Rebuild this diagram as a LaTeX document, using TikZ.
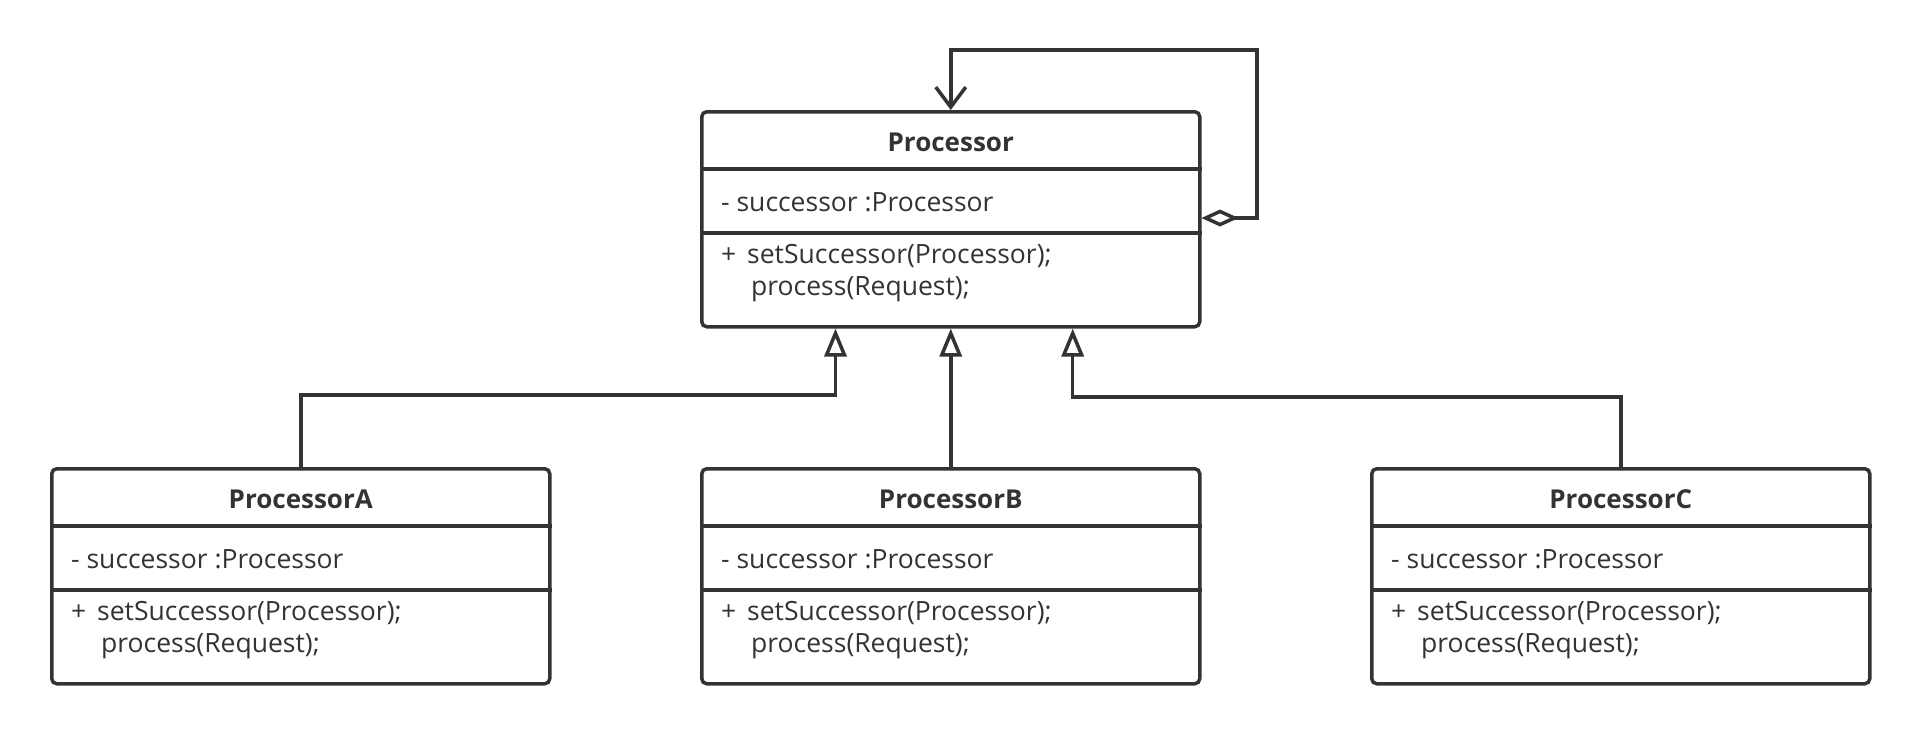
\documentclass[tikz,border=0pt]{standalone}
\usepackage{fontspec}
\setmainfont{Open Sans}
\usetikzlibrary{arrows.meta,calc}
\definecolor{ink}{HTML}{333333}
\tikzset{
  umlline/.style={draw=ink, line width=3.5pt},
  classbox/.style={umlline, rectangle, rounded corners=5pt, minimum width=498pt, minimum height=215pt, inner sep=0pt, anchor=north west, fill=white},
  titletext/.style={anchor=base, inner sep=0pt, text=ink, font=\fontsize{26}{32}\selectfont\bfseries},
  bodytext/.style={anchor=base west, inner sep=0pt, text=ink, font=\fontsize{26.5}{32}\selectfont},
  inherit/.style={umlline, -{Triangle[length=28pt,width=22pt,fill=white]}},
}
\newcommand{\umlclass}[4]{%
  \node[classbox] (#1) at (#2,#3) {};
  \draw[umlline] ([yshift=-59pt]#1.north west) -- ([yshift=-59pt]#1.north east);
  \draw[umlline] ([yshift=-123pt]#1.north west) -- ([yshift=-123pt]#1.north east);
  \node[titletext] (#1-t) at ([yshift=-41pt]#1.north) {#4};
  \node[bodytext] (#1-a) at ([xshift=21pt,yshift=-101pt]#1.north west) {- successor :Processor};
  \node[bodytext] (#1-m1) at ([xshift=21pt,yshift=-153pt]#1.north west) {+ \hspace{4pt}setSuccessor(Processor);};
  \node[bodytext] (#1-m2) at ([xshift=51pt,yshift=-185pt]#1.north west) {process(Request);};
}
\begin{document}
\begin{tikzpicture}[x=1pt,y=-1pt]
\useasboundingbox[fill=white] (0,0) rectangle (1918,734);
\umlclass{P}{700}{110}{Processor}
\umlclass{A}{50}{467}{ProcessorA}
\umlclass{B}{700}{467}{ProcessorB}
\umlclass{C}{1370}{467}{ProcessorC}
% self aggregation loop
\coordinate (loopR) at (1257,50);
\draw[umlline, {Diamond[length=37pt,width=17pt,fill=white]}-{Straight Barb[length=20pt,width=30pt]}]
  ([yshift=-108pt]P.north east) -| (loopR) -| (P.north);
% generalisations
\coordinate (ja) at (835.5,395);
\coordinate (jc) at (1072.7,397);
\draw[inherit] (A.north) |- (ja) -- (ja |- P.south);
\draw[inherit] (B.north) -- (P.south);
\draw[inherit] (C.north) |- (jc) -- (jc |- P.south);
\end{tikzpicture}
\end{document}
